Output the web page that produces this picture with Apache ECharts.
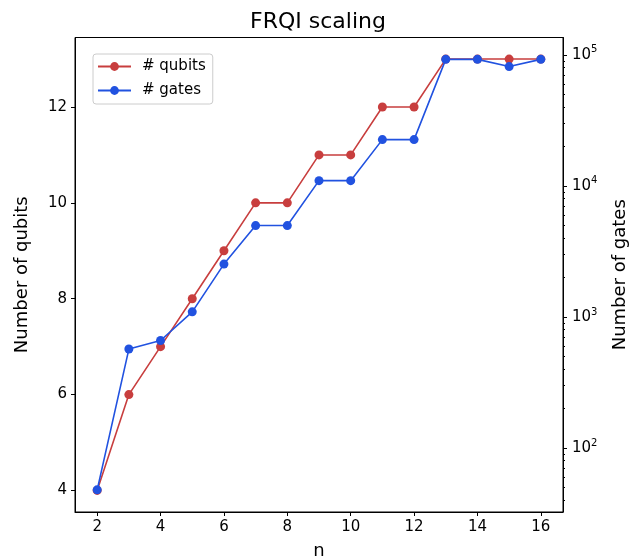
<!DOCTYPE html>
<html>
<head>
<meta charset="utf-8">
<script src="https://cdn.jsdelivr.net/npm/echarts@6/dist/echarts.min.js"></script>
<style>
  html, body { margin: 0; padding: 0; background: #fff; }
  #chart { width: 629px; height: 558px; }
</style>
</head>
<body>
<div id="chart"></div>
<script>
  // data
  const nValues = [2, 3, 4, 5, 6, 7, 8, 9, 10, 11, 12, 13, 14, 15, 16];
  const qubits = [4, 6, 7, 8, 9, 10, 10, 11, 11, 12, 12, 13, 13, 13, 13];
  const gates = [48, 569, 661, 1094, 2530, 4980, 4980, 10960, 10960, 22540, 22540, 92300, 92300, 81300, 92300];

  const font = 'DejaVu Sans';
  const red = '#c83e3e';
  const blue = '#2152e0';

  // minor ticks for the log axis (2..9 x 10^k), in log10 space
  const logMin = 1.512, logMax = 5.132;
  const minorTicks = [];
  for (let d = 1; d <= 5; d++) {
    for (let k = 2; k <= 9; k++) {
      const v = Math.log10(k * Math.pow(10, d));
      if (v > logMin && v < logMax) minorTicks.push(v);
    }
  }

  const myChart = echarts.init(document.getElementById('chart'));

  const option = {
    animation: false,
    backgroundColor: '#fff',
    title: {
      text: 'FRQI scaling',
      left: 245,
      top: 6,
      textStyle: { fontFamily: font, fontSize: 22, fontWeight: 'normal', color: '#000' }
    },
    legend: {
      orient: 'vertical',
      left: 93,
      top: 54,
      padding: [5, 7, 6, 4],
      itemWidth: 33,
      itemHeight: 11,
      itemGap: 9,
      borderColor: '#cccccc',
      borderWidth: 1,
      borderRadius: 3,
      textStyle: { fontFamily: font, fontSize: 15, color: '#000', padding: [0, 0, 0, 6] },
      data: ['# qubits', '# gates']
    },
    grid: {
      left: 75,
      right: 66,
      top: 37.5,
      bottom: 46,
      show: true,
      borderColor: '#000',
      borderWidth: 1,
      containLabel: false,
      outerBoundsMode: 'none'
    },
    xAxis: {
      type: 'value',
      min: 1.3,
      max: 16.7,
      splitNumber: 7,
      name: 'n',
      nameLocation: 'middle',
      nameGap: 30,
      nameTextStyle: { fontFamily: font, fontSize: 18, color: '#000' },
      axisLine: { show: true, onZero: false, lineStyle: { color: '#000' } },
      axisTick: { show: true, length: 4, lineStyle: { color: '#000' } },
      splitLine: { show: false },
      axisLabel: {
        fontFamily: font, fontSize: 15, color: '#000', margin: 8,
        showMinLabel: false, showMaxLabel: false,
        formatter: v => (Math.abs(v - Math.round(v)) < 1e-6 ? String(Math.round(v)) : '')
      }
    },
    yAxis: [
      {
        type: 'value',
        position: 'left',
        min: 3.55,
        max: 13.45,
        splitNumber: 5,
        name: 'Number of qubits',
        nameLocation: 'middle',
        nameGap: 44,
        nameTextStyle: { fontFamily: font, fontSize: 18, color: '#000' },
        axisLine: { show: true, lineStyle: { color: '#000' } },
        axisTick: { show: true, length: 4, lineStyle: { color: '#000' } },
        splitLine: { show: false },
        axisLabel: {
          fontFamily: font, fontSize: 15, color: '#000', margin: 8,
          showMinLabel: false, showMaxLabel: false,
          formatter: v => (Math.abs(v - Math.round(v)) < 1e-6 ? String(Math.round(v)) : '')
        }
      },
      {
        type: 'log',
        position: 'right',
        min: Math.pow(10, logMin),
        max: Math.pow(10, logMax),
        name: 'Number of gates',
        nameLocation: 'middle',
        nameGap: 48,
        nameRotate: 90,
        nameTextStyle: { fontFamily: font, fontSize: 18, color: '#000' },
        axisLine: { show: true, lineStyle: { color: '#000' } },
        axisTick: { show: true, length: 4, lineStyle: { color: '#000' } },
        splitLine: { show: false },
        axisLabel: {
          fontFamily: font, color: '#000', margin: 9,
          showMinLabel: false, showMaxLabel: false,
          formatter: v => {
            const e = Math.log10(v);
            if (Math.abs(e - Math.round(e)) > 1e-6) return '';
            return '{b|10}{s|' + Math.round(e) + '}';
          },
          rich: {
            b: { fontFamily: font, fontSize: 15, color: '#000', lineHeight: 20 },
            s: { fontFamily: font, fontSize: 10, color: '#000', verticalAlign: 'top', lineHeight: 20, padding: [0, 0, 6, 0] }
          }
        }
      },
      {
        // minor ticks of the log axis only
        type: 'value',
        position: 'right',
        min: logMin,
        max: logMax,
        axisLine: { show: false },
        axisLabel: { show: false },
        splitLine: { show: false },
        axisTick: { show: true, length: 2, customValues: minorTicks, lineStyle: { color: '#000' } }
      }
    ],
    series: [
      {
        name: '# qubits',
        type: 'line',
        yAxisIndex: 0,
        symbol: 'circle',
        symbolSize: 9,
        color: red,
        lineStyle: { width: 1.6, color: red },
        itemStyle: { color: red },
        data: nValues.map((n, i) => [n, qubits[i]])
      },
      {
        name: '# gates',
        type: 'line',
        yAxisIndex: 1,
        symbol: 'circle',
        symbolSize: 9,
        color: blue,
        lineStyle: { width: 1.6, color: blue },
        itemStyle: { color: blue },
        data: nValues.map((n, i) => [n, gates[i]])
      }
    ]
  };

  myChart.setOption(option);
</script>
</body>
</html>
